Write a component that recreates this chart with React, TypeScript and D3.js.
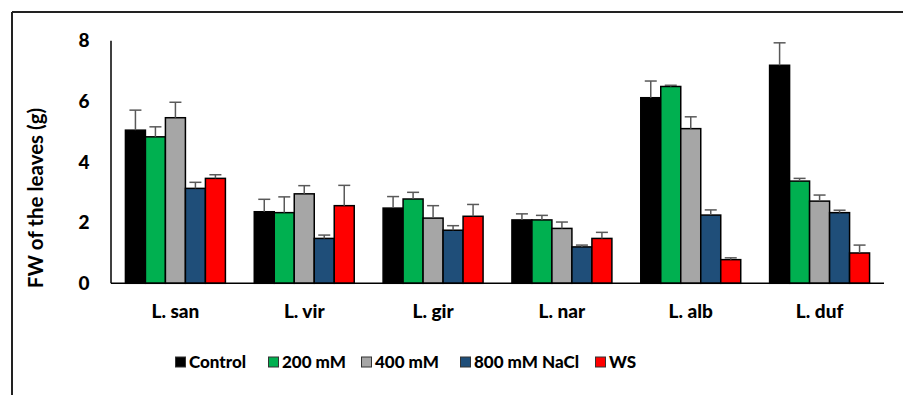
import * as d3 from 'd3';
import React, { useRef, useEffect } from 'react';

const species = ['L. san', 'L. vir', 'L. gir', 'L. nar', 'L. alb', 'L. duf'];
const treatments = ['Control', '200 mM', '400 mM', '800 mM NaCl', 'WS'];
const colors = ['#000000', '#00B050', '#A6A6A6', '#1F4E79', '#FF0000'];

// mean per treatment, one array per treatment (in species order)
const control = [5.05, 2.36, 2.48, 2.09, 6.12, 7.19];
const mM200 = [4.83, 2.33, 2.78, 2.09, 6.49, 3.37];
const mM400 = [5.46, 2.95, 2.15, 1.81, 5.10, 2.71];
const mM800 = [3.13, 1.48, 1.75, 1.20, 2.25, 2.33];
const ws = [3.46, 2.56, 2.21, 1.48, 0.78, 1.00];

// standard errors
const controlErr = [0.66, 0.41, 0.38, 0.20, 0.55, 0.74];
const mM200Err = [0.33, 0.52, 0.22, 0.15, 0.04, 0.09];
const mM400Err = [0.51, 0.27, 0.41, 0.21, 0.39, 0.20];
const mM800Err = [0.20, 0.11, 0.15, 0.06, 0.17, 0.08];
const wsErr = [0.12, 0.67, 0.39, 0.20, 0.06, 0.26];

const yTicks = [0, 2, 4, 6, 8];

const means = [control, mM200, mM400, mM800, ws];
const errs = [controlErr, mM200Err, mM400Err, mM800Err, wsErr];

const W = 903;
const H = 395;
const font = 'Lato, "Open Sans", sans-serif';

function FWChart() {
    const ref = useRef(null);

    useEffect(() => {
        const svg = d3.select(ref.current);
        svg.selectAll('*').remove();

        const left = 111, right = 884, top = 40.7, bottom = 283.3;

        // frame (top + left only visible)
        svg.append('line').attr('x1', 12).attr('x2', W).attr('y1', 12).attr('y2', 12)
            .attr('stroke', '#222').attr('stroke-width', 2);
        svg.append('line').attr('x1', 12).attr('x2', 12).attr('y1', 12).attr('y2', H)
            .attr('stroke', '#222').attr('stroke-width', 2);

        const x0 = d3.scaleBand().domain(species).range([left, right]).paddingInner(0.224).paddingOuter(0.112);
        const x1 = d3.scaleBand().domain(treatments).range([0, x0.bandwidth()]);
        const y = d3.scaleLinear().domain([0, 8]).range([bottom, top]);

        // y axis
        svg.append('line').attr('x1', left).attr('x2', left).attr('y1', top).attr('y2', bottom)
            .attr('stroke', '#000').attr('stroke-width', 1.5);
        svg.selectAll('.ytick').data(yTicks).enter().append('text')
            .attr('x', 84).attr('y', d => y(d)).attr('dy', '0.35em')
            .attr('text-anchor', 'middle')
            .style('font-family', font).style('font-weight', 900).style('font-size', '19px')
            .text(d => d);

        svg.append('text')
            .attr('transform', `translate(43, ${(top + bottom) / 2 + 36}) rotate(-90)`)
            .attr('text-anchor', 'middle')
            .style('font-family', font).style('font-weight', 'bold').style('font-size', '20.5px')
            .text('FW of the leaves (g)');

        const groups = svg.selectAll('.grp').data(species).enter().append('g')
            .attr('transform', d => `translate(${x0(d)},0)`);

        treatments.forEach((t, ti) => {
            groups.append('rect')
                .attr('x', x1(t))
                .attr('y', (d, i) => y(means[ti][i]))
                .attr('width', x1.bandwidth())
                .attr('height', (d, i) => bottom - y(means[ti][i]))
                .attr('fill', colors[ti])
                .attr('stroke', '#000').attr('stroke-width', 1.5);

            const cx = x1(t) + x1.bandwidth() / 2;
            groups.append('line')
                .attr('x1', cx).attr('x2', cx)
                .attr('y1', (d, i) => y(means[ti][i]))
                .attr('y2', (d, i) => y(means[ti][i] + errs[ti][i]))
                .attr('stroke', '#595959').attr('stroke-width', 1.5);
            groups.append('line')
                .attr('x1', cx - 6).attr('x2', cx + 6)
                .attr('y1', (d, i) => y(means[ti][i] + errs[ti][i]))
                .attr('y2', (d, i) => y(means[ti][i] + errs[ti][i]))
                .attr('stroke', '#595959').attr('stroke-width', 1.5);
        });

        // x axis
        svg.append('line').attr('x1', left).attr('x2', right).attr('y1', bottom).attr('y2', bottom)
            .attr('stroke', '#000').attr('stroke-width', 1.5);
        svg.selectAll('.xlab').data(species).enter().append('text')
            .attr('x', d => x0(d) + x0.bandwidth() / 2)
            .attr('y', 318)
            .attr('text-anchor', 'middle')
            .style('font-family', font).style('font-weight', 900).style('font-size', '19px')
            .text(d => d);

        // legend
        const legX = [175, 268, 361, 460, 595];
        const leg = svg.selectAll('.leg').data(treatments).enter().append('g')
            .attr('transform', (d, i) => `translate(${legX[i]}, 362)`);
        leg.append('rect').attr('x', 0.5).attr('y', -5).attr('width', 10).attr('height', 10)
            .attr('fill', (d, i) => colors[i]).attr('stroke', '#333').attr('stroke-width', 1);
        leg.append('text').attr('x', 14).attr('y', 0).attr('dy', '0.35em')
            .style('font-family', font).style('font-weight', 900).style('font-size', '17px')
            .text(d => d);
    }, []);

    return (
        <svg ref={ref} width={W} height={H}
            style={{ position: 'absolute', left: 0, top: 0, background: '#fff' }}>
        </svg>
    );
}

export default function App() {
    return <FWChart />;
}
